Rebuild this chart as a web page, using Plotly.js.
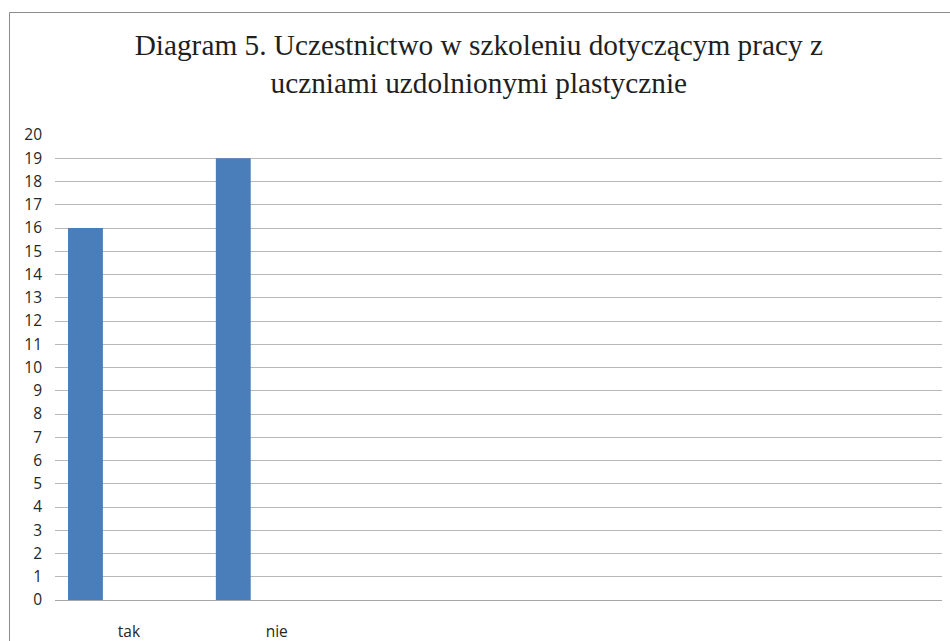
<!DOCTYPE html>
<html>
<head>
<meta charset="utf-8">
<script src="https://cdn.plot.ly/plotly-3.0.1.min.js"></script>
<style>
  html, body { margin: 0; padding: 0; background: #ffffff; }
  #chart { width: 950px; height: 641px; }
</style>
</head>
<body>
<div id="chart"></div>
<script>
// Data
const categories = ["tak", "nie"];
const values = [16, 19];
const titleLines = ["Diagram 5. Uczestnictwo w szkoleniu dotyczącym pracy z", "uczniami uzdolnionymi plastycznie"];
const yTickValues = [0,1,2,3,4,5,6,7,8,9,10,11,12,13,14,15,16,17,18,19,20];

const W = 950, H = 641;
const mL = 55, mR = 8, mT = 135, mB = 41;
const plotW = W - mL - mR, plotH = H - mT - mB;
const px2x = p => (p - mL) / plotW;
const px2y = p => (H - mB - p) / plotH;

const trace = {
  type: 'bar',
  x: categories,
  y: values,
  offset: -0.412,
  width: 0.236,
  marker: { color: '#4a7ebb', line: { width: 0 } },
  hoverinfo: 'x+y'
};

const layout = {
  width: W,
  height: H,
  margin: { l: mL, r: mR, t: mT, b: mB, pad: 0 },
  paper_bgcolor: '#ffffff',
  plot_bgcolor: '#ffffff',
  showlegend: false,
  title: {
    text: titleLines.join('<br>'),
    font: { family: 'Liberation Serif, Times New Roman, serif', size: 29.3, color: '#1f1f1f' },
    xref: 'container', x: 0.504, xanchor: 'center',
    yref: 'container', y: 1 - 55 / H, yanchor: 'top'
  },
  xaxis: {
    type: 'category',
    categoryorder: 'array',
    categoryarray: categories,
    range: [-0.5, 5.5],
    showgrid: false,
    zeroline: false,
    showline: true,
    linecolor: '#a6a6a6',
    linewidth: 1,
    ticks: '',
    ticklabelstandoff: 17,
    tickfont: { family: 'Open Sans, sans-serif', size: 15.5, color: '#262626' },
    fixedrange: true
  },
  yaxis: {
    range: [0, 20],
    tickmode: 'array',
    tickvals: yTickValues,
    ticktext: yTickValues.map(String),
    showgrid: true,
    gridcolor: '#b8b8b8',
    gridwidth: 1,
    zeroline: false,
    showline: false,
    ticks: '',
    ticklabelstandoff: 12,
    tickfont: { family: 'Open Sans, sans-serif', size: 15.5, color: '#262626' },
    fixedrange: true
  },
  shapes: [{
    type: 'rect',
    xref: 'paper', yref: 'paper',
    x0: px2x(9.5), x1: px2x(970),
    y0: px2y(660), y1: px2y(12.5),
    line: { color: '#8c8c8c', width: 1 },
    fillcolor: 'rgba(0,0,0,0)',
    layer: 'above'
  }]
};

Plotly.newPlot('chart', [trace], layout, { staticPlot: true, displayModeBar: false });
</script>
</body>
</html>
